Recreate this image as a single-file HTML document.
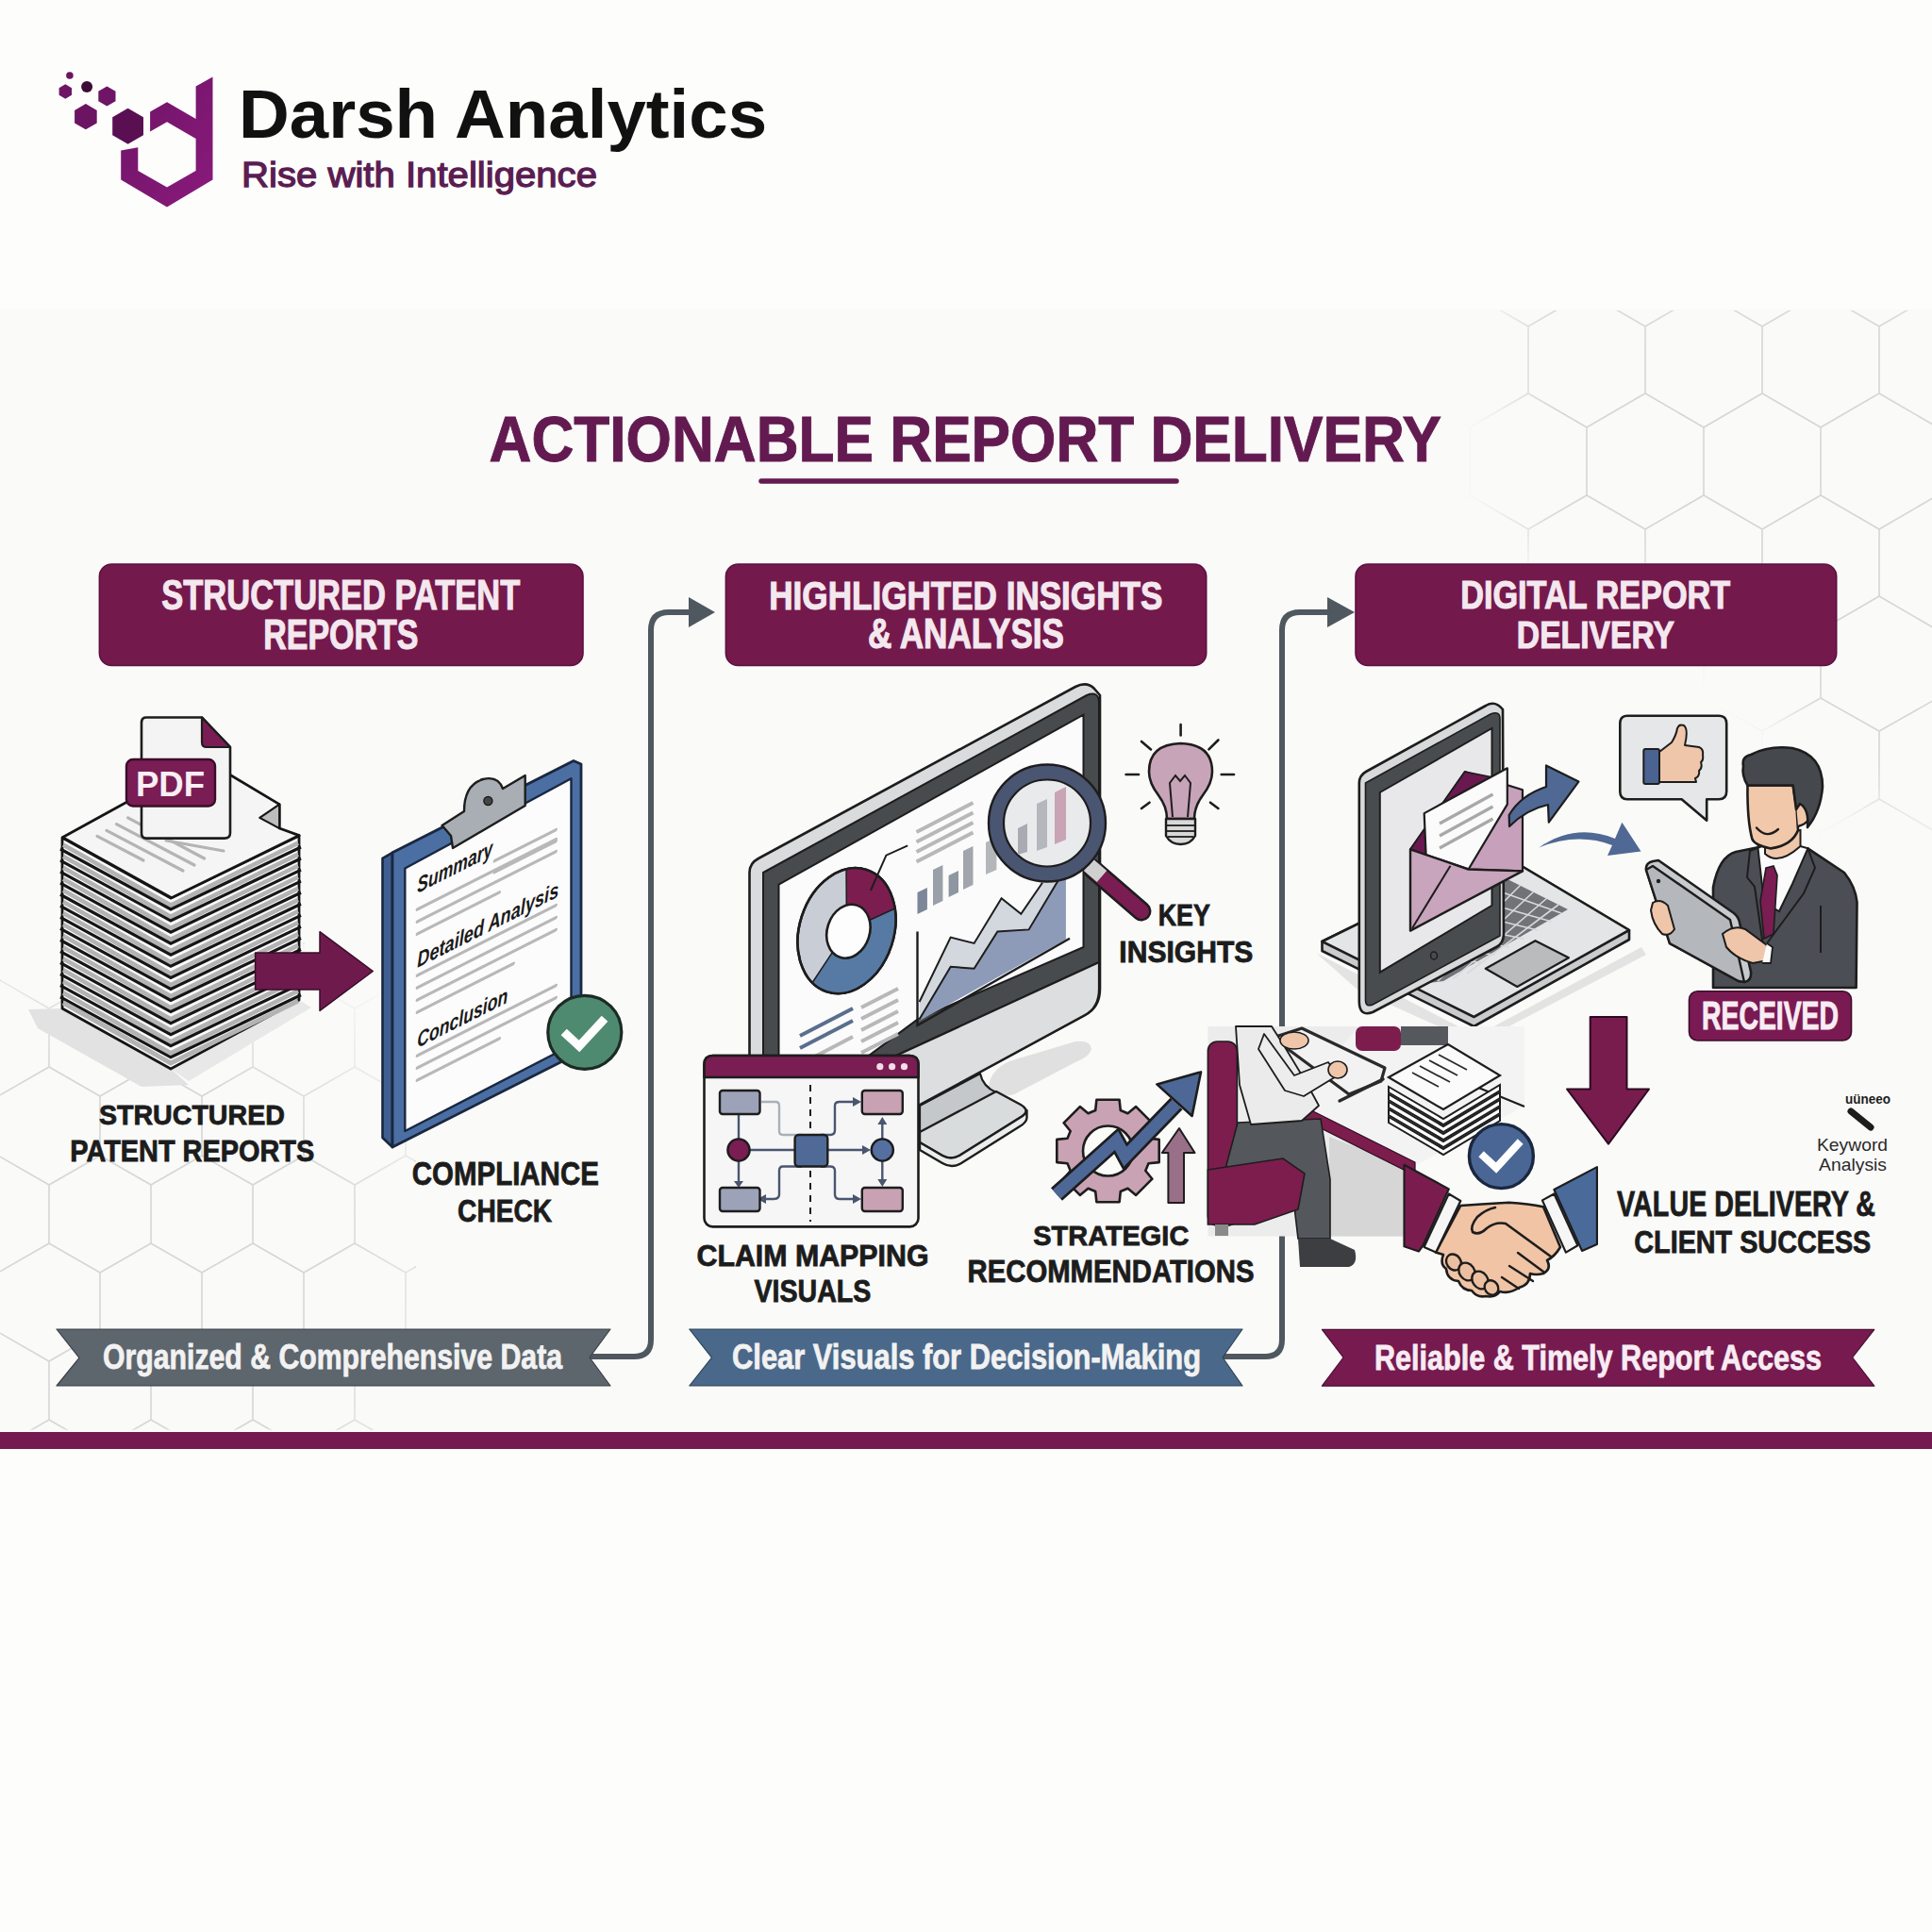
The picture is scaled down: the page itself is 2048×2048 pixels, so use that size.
<!DOCTYPE html>
<html><head><meta charset="utf-8"><title>Darsh Analytics - Actionable Report Delivery</title>
<style>
html,body{margin:0;padding:0;width:2048px;height:2048px;overflow:hidden;background:#fdfdfc;}
svg{display:block;position:absolute;left:0;top:0;}
text{font-family:"Liberation Sans",sans-serif;}
</style></head><body>
<svg width="2048" height="2048" viewBox="0 0 2048 2048">
<defs>
<linearGradient id="lg" x1="0" y1="0" x2="1" y2="1"><stop offset="0" stop-color="#6e1466"/><stop offset="1" stop-color="#8a1a7c"/></linearGradient>
</defs>
<rect x="0" y="328" width="2048" height="1190" fill="#fafaf9"/>
<!-- BACKGROUND HEX PATTERN -->
<g id="hexbg" fill="none" stroke="#d6d6d6" stroke-width="1.6">
<defs>
<filter id="blur30" x="-20%" y="-20%" width="140%" height="140%"><feGaussianBlur stdDeviation="28"/></filter>
<mask id="mTR" maskUnits="userSpaceOnUse" x="1500" y="329" width="548" height="800"><polygon points="1600,300 2100,300 2100,880 1960,850 1880,740 1790,640 1700,590 1600,580" fill="#fff" filter="url(#blur30)"/></mask>
<radialGradient id="fadeBL" cx="120" cy="1360" r="430" gradientUnits="userSpaceOnUse"><stop offset="0" stop-color="#fff"/><stop offset="0.55" stop-color="#fff"/><stop offset="1" stop-color="#000"/></radialGradient>
<mask id="mBL"><rect x="0" y="1000" width="440" height="515" fill="url(#fadeBL)"/></mask>
</defs>
<path d="M1558,310 L1620,346 L1620,417 L1558,453 L1496,417 L1496,346ZM1682,310 L1744,346 L1744,417 L1682,453 L1620,417 L1620,346ZM1806,310 L1868,346 L1868,417 L1806,453 L1744,417 L1744,346ZM1930,310 L1992,346 L1992,417 L1930,453 L1868,417 L1868,346ZM2054,310 L2116,346 L2116,417 L2054,453 L1992,417 L1992,346ZM2178,310 L2240,346 L2240,417 L2178,453 L2116,417 L2116,346ZM1620,417 L1682,453 L1682,525 L1620,561 L1558,525 L1558,453ZM1744,417 L1806,453 L1806,525 L1744,561 L1682,525 L1682,453ZM1868,417 L1930,453 L1930,525 L1868,561 L1806,525 L1806,453ZM1992,417 L2054,453 L2054,525 L1992,561 L1930,525 L1930,453ZM2116,417 L2178,453 L2178,525 L2116,561 L2054,525 L2054,453ZM2240,417 L2302,453 L2302,525 L2240,561 L2178,525 L2178,453ZM1558,525 L1620,561 L1620,632 L1558,668 L1496,632 L1496,561ZM1682,525 L1744,561 L1744,632 L1682,668 L1620,632 L1620,561ZM1806,525 L1868,561 L1868,632 L1806,668 L1744,632 L1744,561ZM1930,525 L1992,561 L1992,632 L1930,668 L1868,632 L1868,561ZM2054,525 L2116,561 L2116,632 L2054,668 L1992,632 L1992,561ZM2178,525 L2240,561 L2240,632 L2178,668 L2116,632 L2116,561ZM1620,632 L1682,668 L1682,740 L1620,775 L1558,740 L1558,668ZM1744,632 L1806,668 L1806,740 L1744,775 L1682,740 L1682,668ZM1868,632 L1930,668 L1930,740 L1868,775 L1806,740 L1806,668ZM1992,632 L2054,668 L2054,740 L1992,775 L1930,740 L1930,668ZM2116,632 L2178,668 L2178,740 L2116,775 L2054,740 L2054,668ZM2240,632 L2302,668 L2302,740 L2240,775 L2178,740 L2178,668ZM1558,740 L1620,775 L1620,847 L1558,883 L1496,847 L1496,775ZM1682,740 L1744,775 L1744,847 L1682,883 L1620,847 L1620,775ZM1806,740 L1868,775 L1868,847 L1806,883 L1744,847 L1744,775ZM1930,740 L1992,775 L1992,847 L1930,883 L1868,847 L1868,775ZM2054,740 L2116,775 L2116,847 L2054,883 L1992,847 L1992,775ZM2178,740 L2240,775 L2240,847 L2178,883 L2116,847 L2116,775ZM1620,847 L1682,883 L1682,954 L1620,990 L1558,954 L1558,883ZM1744,847 L1806,883 L1806,954 L1744,990 L1682,954 L1682,883ZM1868,847 L1930,883 L1930,954 L1868,990 L1806,954 L1806,883ZM1992,847 L2054,883 L2054,954 L1992,990 L1930,954 L1930,883ZM2116,847 L2178,883 L2178,954 L2116,990 L2054,954 L2054,883ZM2240,847 L2302,883 L2302,954 L2240,990 L2178,954 L2178,883ZM1558,954 L1620,990 L1620,1062 L1558,1098 L1496,1062 L1496,990ZM1682,954 L1744,990 L1744,1062 L1682,1098 L1620,1062 L1620,990ZM1806,954 L1868,990 L1868,1062 L1806,1098 L1744,1062 L1744,990ZM1930,954 L1992,990 L1992,1062 L1930,1098 L1868,1062 L1868,990ZM2054,954 L2116,990 L2116,1062 L2054,1098 L1992,1062 L1992,990ZM2178,954 L2240,990 L2240,1062 L2178,1098 L2116,1062 L2116,990ZM1620,1062 L1682,1098 L1682,1169 L1620,1205 L1558,1169 L1558,1098ZM1744,1062 L1806,1098 L1806,1169 L1744,1205 L1682,1169 L1682,1098ZM1868,1062 L1930,1098 L1930,1169 L1868,1205 L1806,1169 L1806,1098ZM1992,1062 L2054,1098 L2054,1169 L1992,1205 L1930,1169 L1930,1098ZM2116,1062 L2178,1098 L2178,1169 L2116,1205 L2054,1169 L2054,1098ZM2240,1062 L2302,1098 L2302,1169 L2240,1205 L2178,1169 L2178,1098Z" mask="url(#mTR)"/>
<path d="M-56,944 L-2,975 L-2,1038 L-56,1069 L-110,1038 L-110,975ZM52,944 L106,975 L106,1038 L52,1069 L-2,1038 L-2,975ZM160,944 L214,975 L214,1038 L160,1069 L106,1038 L106,975ZM268,944 L322,975 L322,1038 L268,1069 L214,1038 L214,975ZM376,944 L430,975 L430,1038 L376,1069 L322,1038 L322,975ZM484,944 L538,975 L538,1038 L484,1069 L430,1038 L430,975ZM592,944 L646,975 L646,1038 L592,1069 L538,1038 L538,975ZM-2,1038 L52,1069 L52,1131 L-2,1162 L-56,1131 L-56,1069ZM106,1038 L160,1069 L160,1131 L106,1162 L52,1131 L52,1069ZM214,1038 L268,1069 L268,1131 L214,1162 L160,1131 L160,1069ZM322,1038 L376,1069 L376,1131 L322,1162 L268,1131 L268,1069ZM430,1038 L484,1069 L484,1131 L430,1162 L376,1131 L376,1069ZM538,1038 L592,1069 L592,1131 L538,1162 L484,1131 L484,1069ZM646,1038 L700,1069 L700,1131 L646,1162 L592,1131 L592,1069ZM-56,1131 L-2,1162 L-2,1225 L-56,1256 L-110,1225 L-110,1162ZM52,1131 L106,1162 L106,1225 L52,1256 L-2,1225 L-2,1162ZM160,1131 L214,1162 L214,1225 L160,1256 L106,1225 L106,1162ZM268,1131 L322,1162 L322,1225 L268,1256 L214,1225 L214,1162ZM376,1131 L430,1162 L430,1225 L376,1256 L322,1225 L322,1162ZM484,1131 L538,1162 L538,1225 L484,1256 L430,1225 L430,1162ZM592,1131 L646,1162 L646,1225 L592,1256 L538,1225 L538,1162ZM-2,1225 L52,1256 L52,1318 L-2,1349 L-56,1318 L-56,1256ZM106,1225 L160,1256 L160,1318 L106,1349 L52,1318 L52,1256ZM214,1225 L268,1256 L268,1318 L214,1349 L160,1318 L160,1256ZM322,1225 L376,1256 L376,1318 L322,1349 L268,1318 L268,1256ZM430,1225 L484,1256 L484,1318 L430,1349 L376,1318 L376,1256ZM538,1225 L592,1256 L592,1318 L538,1349 L484,1318 L484,1256ZM646,1225 L700,1256 L700,1318 L646,1349 L592,1318 L592,1256ZM-56,1318 L-2,1349 L-2,1412 L-56,1443 L-110,1412 L-110,1349ZM52,1318 L106,1349 L106,1412 L52,1443 L-2,1412 L-2,1349ZM160,1318 L214,1349 L214,1412 L160,1443 L106,1412 L106,1349ZM268,1318 L322,1349 L322,1412 L268,1443 L214,1412 L214,1349ZM376,1318 L430,1349 L430,1412 L376,1443 L322,1412 L322,1349ZM484,1318 L538,1349 L538,1412 L484,1443 L430,1412 L430,1349ZM592,1318 L646,1349 L646,1412 L592,1443 L538,1412 L538,1349ZM-2,1412 L52,1443 L52,1505 L-2,1536 L-56,1505 L-56,1443ZM106,1412 L160,1443 L160,1505 L106,1536 L52,1505 L52,1443ZM214,1412 L268,1443 L268,1505 L214,1536 L160,1505 L160,1443ZM322,1412 L376,1443 L376,1505 L322,1536 L268,1505 L268,1443ZM430,1412 L484,1443 L484,1505 L430,1536 L376,1505 L376,1443ZM538,1412 L592,1443 L592,1505 L538,1536 L484,1505 L484,1443ZM646,1412 L700,1443 L700,1505 L646,1536 L592,1505 L592,1443Z" mask="url(#mBL)"/>
</g>

<!-- LOGO -->
<g id="logo">
<circle cx="73.9" cy="80" r="3.8" fill="#6a1560"/>
<polygon points="69.3,89.3 76,93.2 76,100.8 69.3,104.7 62.6,100.8 62.6,93.2" fill="#6e1566"/>
<circle cx="92.1" cy="92" r="6" fill="#3e0a36"/>
<polygon points="113.4,91.5 122.5,96.7 122.5,107.3 113.4,112.5 104.3,107.3 104.3,96.7" fill="#6e1566"/>
<polygon points="90.9,110.1 102.7,116.9 102.7,130.5 90.9,137.3 79.1,130.5 79.1,116.9" fill="#6b1462"/>
<polygon points="135.6,114.8 152,124.3 152,143.3 135.6,152.8 119.2,143.3 119.2,124.3" fill="#5a0f52"/>
<path d="M225.5,81.5 L225.5,190.5 L177,219.5 L128.2,190.5 L128.2,159.6 L146.3,156.2 L146.3,180.9 L177,198.6 L207.6,180.9 L207.6,147 L177,129.3 L159.1,139.6 L159.1,118.5 L177,108.2 L207.6,125.9 L207.6,91.6 Z" fill="url(#lg)"/>
</g>
<text id="t0" x="253.00" y="146" font-size="72" font-weight="bold" fill="#111" textLength="560.12" lengthAdjust="spacingAndGlyphs">Darsh Analytics</text>
<text id="t1" x="256.00" y="197.7" font-size="37.7" fill="#5a1d52" textLength="377.02" lengthAdjust="spacingAndGlyphs" stroke="#5a1d52" stroke-width="1.3">Rise with Intelligence</text>

<!-- TITLE -->
<text id="t2" x="1023.30" y="489.00" font-size="68.37" font-weight="bold" fill="#621a50" stroke="#621a50" stroke-width="1" text-anchor="middle" textLength="1009.40" lengthAdjust="spacingAndGlyphs">ACTIONABLE REPORT DELIVERY</text>
<line x1="807" y1="510" x2="1247" y2="510" stroke="#621a50" stroke-width="5.5" stroke-linecap="round"/>

<!-- HEADERS -->
<g id="headers">
<rect x="105.4" y="598" width="512.6" height="107.5" rx="13" fill="#74194c" stroke="#5c1140" stroke-width="1.6"/>
<rect x="769.4" y="598" width="509.3" height="107.5" rx="13" fill="#74194c" stroke="#5c1140" stroke-width="1.6"/>
<rect x="1437" y="598" width="509.7" height="107.5" rx="13" fill="#74194c" stroke="#5c1140" stroke-width="1.6"/>
<g font-size="45" font-weight="bold" fill="#f4e8ef" stroke="#f4e8ef" stroke-width="1.1" text-anchor="middle">
<text font-size="44.13" id="t3" x="361.30" y="646.00" textLength="380.00" lengthAdjust="spacingAndGlyphs">STRUCTURED PATENT</text>
<text font-size="43.60" id="t4" x="361.30" y="688.00" textLength="164.04" lengthAdjust="spacingAndGlyphs">REPORTS</text>
<text font-size="42.73" id="t5" x="1023.80" y="646.00" textLength="417.04" lengthAdjust="spacingAndGlyphs">HIGHLIGHTED INSIGHTS</text>
<text font-size="45" id="t6" x="1024.00" y="687.00" textLength="208.02" lengthAdjust="spacingAndGlyphs">&amp; ANALYSIS</text>
<text font-size="42.97" id="t7" x="1691.20" y="645.00" textLength="286.02" lengthAdjust="spacingAndGlyphs">DIGITAL REPORT</text>
<text font-size="41.45" id="t8" x="1691.40" y="687.00" textLength="167.07" lengthAdjust="spacingAndGlyphs">DELIVERY</text>
</g>
</g>

<!-- CONNECTORS -->
<g fill="none" stroke="#4f575f" stroke-width="6" stroke-linejoin="round">
<path d="M625,1438 L672,1438 Q690,1438 690,1420 L690,668 Q690,649 709,649 L734,649"/>
<path d="M1296,1438 L1341,1438 Q1359,1438 1359,1420 L1359,668 Q1359,649 1378,649 L1410,649"/>
</g>
<g fill="#4f575f">
<polygon points="730,633 758,649 730,665"/>
<polygon points="1407,633 1436,649 1407,665"/>
</g>

<!-- RIBBONS -->
<g id="ribbons">
<polygon points="60,1409 647,1409 625,1439 647,1469 60,1469 84,1439.3" fill="#5d656d" stroke="#3a4046" stroke-width="1.2" stroke-linejoin="round"/>
<polygon points="730.8,1409 1317,1409 1296,1439 1317,1469 730.8,1469 754.5,1439.2" fill="#4a6889" stroke="#2e4258" stroke-width="1.2" stroke-linejoin="round"/>
<polygon points="1401.4,1409.4 1986.8,1409.4 1963.7,1439 1986.8,1469.2 1401.4,1469.2 1424,1439" fill="#761a50" stroke="#4a0e30" stroke-width="1.2" stroke-linejoin="round"/>
<g font-size="37.7" font-weight="bold" fill="#f2f2f2" stroke="#f2f2f2" stroke-width="0.8">
<text font-size="37.7" id="t9" x="109.00" y="1451.4" textLength="487.00" lengthAdjust="spacingAndGlyphs">Organized &amp; Comprehensive Data</text>
<text font-size="37.7" id="t10" x="776.00" y="1451.4" textLength="497.03" lengthAdjust="spacingAndGlyphs">Clear Visuals for Decision-Making</text>
<text font-size="37.7" id="t11" x="1457.00" y="1451.6" textLength="474.02" lengthAdjust="spacingAndGlyphs" fill="#f8ecf3" stroke="#f8ecf3">Reliable &amp; Timely Report Access</text>
</g>
</g>

<!-- BOTTOM BAR -->
<rect x="0" y="1518" width="2048" height="18" fill="#741a50"/>

<!-- LABELS -->
<g font-size="35" font-weight="bold" fill="#1c1c1c" stroke="#1c1c1c" stroke-width="0.8" text-anchor="middle">
<text font-size="29.57" id="t12" x="203.40" y="1192.00" textLength="197.01" lengthAdjust="spacingAndGlyphs">STRUCTURED</text>
<text font-size="32.07" id="t13" x="203.80" y="1231.00" textLength="259.02" lengthAdjust="spacingAndGlyphs">PATENT REPORTS</text>
<text id="t14" x="535.80" y="1256.00" textLength="198.02" lengthAdjust="spacingAndGlyphs" font-size="34.89">COMPLIANCE</text>
<text id="t15" x="535.10" y="1295.00" textLength="100.00" lengthAdjust="spacingAndGlyphs" font-size="33.96">CHECK</text>
<text font-size="31.84" id="t16" x="1255.30" y="981.00" textLength="55.07" lengthAdjust="spacingAndGlyphs">KEY</text>
<text font-size="31.40" id="t17" x="1257.40" y="1020.00" textLength="142.06" lengthAdjust="spacingAndGlyphs">INSIGHTS</text>
<text font-size="31.80" id="t18" x="861.50" y="1342.00" textLength="246.01" lengthAdjust="spacingAndGlyphs">CLAIM MAPPING</text>
<text font-size="32.85" id="t19" x="861.40" y="1380.00" textLength="124.02" lengthAdjust="spacingAndGlyphs">VISUALS</text>
<text font-size="29.57" id="t20" x="1177.80" y="1320.00" textLength="165.03" lengthAdjust="spacingAndGlyphs">STRATEGIC</text>
<text font-size="32.85" id="t21" x="1177.50" y="1359.00" textLength="304.01" lengthAdjust="spacingAndGlyphs">RECOMMENDATIONS</text>
<text id="t22" x="1851.10" y="1289.00" textLength="274.00" lengthAdjust="spacingAndGlyphs" font-size="37.7">VALUE DELIVERY &amp;</text>
<text id="t23" x="1857.80" y="1328.00" textLength="251.01" lengthAdjust="spacingAndGlyphs" font-size="34.11">CLIENT SUCCESS</text>
</g>
<g font-size="19" fill="#2a2a2a">
<text font-size="19" id="t24" x="1926.00" y="1219.5" textLength="75.07" lengthAdjust="spacingAndGlyphs">Keyword</text>
<text font-size="19" id="t25" x="1928.00" y="1241.4" textLength="72.02" lengthAdjust="spacingAndGlyphs">Analysis</text>
</g>

<!-- ILLUSTRATIONS -->
<g id="panel3">
<!-- laptop shadow -->
<polygon points="1395,1010 1565,1098 1740,1004 1745,1012 1565,1106 1440,1050" fill="#e3e3e3"/>
<!-- laptop base -->
<path d="M1401.5,998 L1591,905 L1727,986 L1727,996 L1562.4,1088 L1401.5,1008 Z" fill="#c9cbcd" stroke="#1d1d1d" stroke-width="2.6" stroke-linejoin="round"/>
<path d="M1401.5,998 L1591,905 L1727,986 L1562.4,1078 Z" fill="#e4e5e6" stroke="#1d1d1d" stroke-width="2.6" stroke-linejoin="round"/>
<!-- keyboard -->
<polygon points="1598,932 1662,964 1530,1040 1500,1044 1470,1030" fill="#707478"/>
<g stroke="#d8d9da" stroke-width="1.6">
<line x1="1590" y1="945" x2="1655" y2="968"/><line x1="1575" y1="957" x2="1645" y2="977"/><line x1="1560" y1="969" x2="1630" y2="986"/>
<line x1="1545" y1="981" x2="1615" y2="995"/><line x1="1530" y1="993" x2="1600" y2="1004"/><line x1="1515" y1="1005" x2="1585" y2="1012"/>
<line x1="1500" y1="1017" x2="1570" y2="1020"/>
<line x1="1612" y1="938" x2="1510" y2="1040"/><line x1="1626" y1="945" x2="1524" y2="1040"/><line x1="1640" y1="952" x2="1540" y2="1038"/><line x1="1652" y1="959" x2="1555" y2="1032"/>
</g>
<polygon points="1574.8,1026.8 1627.5,997.2 1662.9,1015.3 1608.3,1046" fill="#b9bbbd" stroke="#1d1d1d" stroke-width="2.2" stroke-linejoin="round"/>
<!-- laptop screen -->
<path d="M1440.8,830 Q1440.8,822 1448,818 L1575,748 Q1585,742 1593,752 L1594,990 Q1594,1000 1586,1004 L1455,1073 Q1441,1078 1440.8,1062 Z" fill="#d7d9db" stroke="#1d1d1d" stroke-width="2.6" stroke-linejoin="round"/>
<path d="M1447.5,830 L1580,757 Q1590,753 1590,762 L1590,992 L1455,1065 Q1447.5,1068 1447.5,1060 Z" fill="#484c4f" stroke="#1d1d1d" stroke-width="1.6" stroke-linejoin="round"/>
<polygon points="1462.8,840 1581.5,772 1581.5,959.8 1462.8,1030.7" fill="#e8e8ea" stroke="#1d1d1d" stroke-width="2"/>
<ellipse cx="1520" cy="1013" rx="3.5" ry="4" fill="none" stroke="#1d1d1d" stroke-width="1.5"/>
<!-- envelope -->
<polygon points="1495,900.4 1552.8,818.1 1614,837.2 1614,923.4 1556.6,921.5" fill="#c7a0bb" stroke="#1d1d1d" stroke-width="2.2" stroke-linejoin="round"/>
<polygon points="1495,900.4 1552.8,818.1 1581.5,823.8 1556.6,921.5" fill="#6a1850" stroke="#1d1d1d" stroke-width="1.6" stroke-linejoin="round"/>
<polygon points="1509.7,862.1 1597.8,814.3 1597.8,852.6 1556.6,921.5 1511.6,906.2" fill="#fbfbfb" stroke="#1d1d1d" stroke-width="2.2" stroke-linejoin="round"/>
<g stroke="#a8a8a8" stroke-width="3.2"><line x1="1526" y1="873" x2="1582.5" y2="842"/><line x1="1526" y1="886" x2="1582.5" y2="855"/><line x1="1526" y1="899" x2="1582.5" y2="868"/></g>
<polygon points="1495,900.4 1556.6,921.5 1614,923.4 1495,986.6" fill="#c9a4bd" stroke="#1d1d1d" stroke-width="2.4" stroke-linejoin="round"/>
<polyline points="1497,984 1537.5,917.7" fill="none" stroke="#1d1d1d" stroke-width="2"/>
<!-- blue arrows -->
<path d="M1599.7,864 Q1612,843 1639,834 L1639,811.4 L1673.4,828.6 L1641.8,871.7 L1641,853 Q1618,858 1600,876 Z" fill="#4f6894" stroke="#1d1d1d" stroke-width="2.2" stroke-linejoin="round"/>
<path d="M1631.3,898.5 Q1670,872 1712,889 L1719.4,871.7 L1739.5,902.4 L1704,907 L1709,896 Q1672,882 1631.3,898.5 Z" fill="#4f6894"/>
<!-- thumbs up bubble -->
<path d="M1725,758.7 L1822,758.7 Q1830.2,758.7 1830.2,767 L1830.2,839 Q1830.2,847.2 1822,847.2 L1809.2,847.2 L1809.2,869.8 L1782.6,847.2 L1725,847.2 Q1717.3,847.2 1717.3,839 L1717.3,767 Q1717.3,758.7 1725,758.7 Z" fill="#e6e7e9" stroke="#1d1d1d" stroke-width="2.6" stroke-linejoin="round"/>
<rect x="1742.3" y="794" width="16.7" height="36.9" rx="2" fill="#4a6390" stroke="#1d1d1d" stroke-width="2"/>
<path d="M1759,797 L1772,787 Q1777,779 1778,772 Q1780,767 1785,769 Q1790,773 1786,790 L1801,792 Q1806,794 1805,800 Q1806,806 1803,808 Q1805,814 1801,817 Q1802,823 1797,825 L1798,829 L1759,829 Z" fill="#f0c6ab" stroke="#1d1d1d" stroke-width="2" stroke-linejoin="round"/>
<!-- person -->
<path d="M1816,1047 L1816,940.7 Q1822,908 1840,903 L1867.2,897.4 L1916.4,899.4 L1955,925 Q1967,940 1968.5,956.4 L1967.6,1047 Z" fill="#4b4e54" stroke="#1d1d1d" stroke-width="2.6" stroke-linejoin="round"/>
<polygon points="1863.3,897.4 1871,893 1908.5,897 1916.4,899.4 1900,937 1886,966 1870,957" fill="#fbfbfb" stroke="#1d1d1d" stroke-width="2"/>
<polygon points="1872,920 1880,918 1884,928 1880,990 1870,995 1866,955" fill="#7a1d52" stroke="#1d1d1d" stroke-width="1.6"/>
<path d="M1867.2,897.4 L1855,902 L1852,930 L1860,940 L1870,1010" fill="none" stroke="#1d1d1d" stroke-width="2"/>
<path d="M1916.4,899.4 L1924,920 L1912,947 L1873,1000" fill="none" stroke="#1d1d1d" stroke-width="2"/>
<line x1="1930" y1="960" x2="1930" y2="1010" stroke="#1d1d1d" stroke-width="2"/>
<path d="M1871,885 L1871,905 Q1885,918 1908.5,897 L1908.5,880 Z" fill="#f0c6ab" stroke="#1d1d1d" stroke-width="2"/>
<path d="M1852.5,832.5 L1900.7,832.5 L1904.6,858 L1906,880 Q1900,896 1877,899.4 Q1860,896 1857.4,889.5 Q1852,870 1852.5,832.5 Z" fill="#f2c8aa" stroke="#1d1d1d" stroke-width="2.6" stroke-linejoin="round"/>
<path d="M1904,852 Q1915,846 1919,858 Q1921,872 1906,876" fill="#f2c8aa" stroke="#1d1d1d" stroke-width="2.4"/>
<path d="M1848,812 Q1846,802 1856,800 Q1875,790 1900,793 Q1932,800 1932,834 Q1930,860 1916,877 Q1918,858 1908,852 L1904,858 L1900.7,832.5 L1852.5,832.5 Q1846,822 1848,812 Z" fill="#45484c" stroke="#1d1d1d" stroke-width="2.6" stroke-linejoin="round"/>
<path d="M1862,877.5 Q1873,890 1885,879" fill="none" stroke="#1d1d1d" stroke-width="2.4" stroke-linecap="round"/>
<!-- tablet -->
<path d="M1745,922 Q1744,915 1752,913 L1758,912 L1838,968 Q1843,972 1844,978 L1856,1030 Q1857,1040 1849,1041 L1843,1040 L1770,1000 Z" fill="#c8cbce" stroke="#1d1d1d" stroke-width="2.6" stroke-linejoin="round"/>
<path d="M1745,922 L1752,918 L1834,975 L1849,1041 L1843,1040 L1770,1000 Z" fill="#b4b8bc" stroke="#1d1d1d" stroke-width="2.4" stroke-linejoin="round"/>
<circle cx="1758" cy="934" r="2.2" fill="#1d1d1d"/>
<path d="M1752,957 Q1760,952 1768,960 L1775,985 Q1770,993 1762,990 Q1752,980 1750,965 Z" fill="#f0c6ab" stroke="#1d1d1d" stroke-width="2"/>
<path d="M1826,990 Q1838,980 1850,985 L1873,1002 Q1880,1012 1874,1018 L1858,1021 Q1840,1016 1830,1004 Z" fill="#f0c6ab" stroke="#1d1d1d" stroke-width="2"/>
<path d="M1873,1000 L1879,1004 L1877,1021 L1868,1021" fill="#fbfbfb" stroke="#1d1d1d" stroke-width="1.8"/>
<!-- RECEIVED badge -->
<rect x="1790.5" y="1050.8" width="172" height="52.2" rx="9" fill="#7a1a52" stroke="#3e0c2a" stroke-width="1.6"/>
<text id="t26" x="1876.50" y="1091.00" font-size="41.65" font-weight="bold" fill="#f8ecf3" stroke="#f8ecf3" stroke-width="1" text-anchor="middle" textLength="145.03" lengthAdjust="spacingAndGlyphs">RECEIVED</text>

<!-- desk overlay picture -->
<g>
<rect x="1280.4" y="1088" width="207" height="222.5" fill="#ececec"/>
<polygon points="1372,1170 1440,1088 1616,1088 1616,1172 1500,1236" fill="#f3f3f3"/>
<line x1="1560" y1="1150" x2="1616" y2="1173" stroke="#1d1d1d" stroke-width="2.2"/>
<polygon points="1409,1205 1487.3,1235 1487.3,1310.5 1409,1310.5" fill="#d6d6d6"/>
<polygon points="1372,1168 1500,1232 1500,1246 1372,1182" fill="#7c1d4e" stroke="#2a0a1e" stroke-width="1.2"/>
<rect x="1437" y="1088" width="48" height="26" rx="7" fill="#7c1d4e"/>
<rect x="1485" y="1088" width="50" height="20" fill="#55585c"/>
<polygon points="1349,1100 1380,1090 1468,1132 1464,1146 1430,1160" fill="#f2f2f2" stroke="#2a2a2a" stroke-width="3.2" stroke-linejoin="round"/>
<line x1="1420" y1="1167" x2="1466" y2="1144" stroke="#2a2a2a" stroke-width="3.4" stroke-linecap="round"/>
<rect x="1280.4" y="1104" width="31" height="195" rx="10" fill="#7c1d4e" stroke="#1d1d1d" stroke-width="1.6"/>
<path d="M1312,1190 L1400,1186 L1410,1250 L1410,1313 L1376,1313 L1370,1262 L1308,1270 L1300,1235 Z" fill="#54575b" stroke="#1d1d1d" stroke-width="1.6"/>
<path d="M1280.4,1240 L1360,1228 L1383,1244 L1376,1282 L1330,1298 L1280.4,1298 Z" fill="#7c1d4e" stroke="#1d1d1d" stroke-width="1.6"/>
<path d="M1310,1088 L1348,1088 L1362,1110 L1385,1148 L1398,1172 L1380,1188 L1326,1192 L1314,1150 Z" fill="#ebebeb" stroke="#1d1d1d" stroke-width="1.8" stroke-linejoin="round"/>
<path d="M1340,1096 L1372,1140 L1408,1126 L1418,1140 L1382,1162 L1362,1156 L1334,1112 Z" fill="#ededed" stroke="#1d1d1d" stroke-width="1.8" stroke-linejoin="round"/>
<ellipse cx="1372" cy="1103" rx="15" ry="9" fill="#f0c6ab" stroke="#1d1d1d" stroke-width="1.6"/>
<ellipse cx="1418" cy="1134" rx="10" ry="9" fill="#f0c6ab" stroke="#1d1d1d" stroke-width="1.6"/>
<rect x="1288" y="1298" width="14" height="12" fill="#8a8a8a"/>
<path d="M1376,1313 L1410,1313 L1436,1325 Q1440,1340 1430,1343 L1378,1343 Z" fill="#3c3e42"/>
<g>
<defs><polygon id="pch" points="1472,1152 1530,1186 1590,1150 1590,1156 1530,1192 1472,1158" fill="#fdfdfd" stroke="#1d1d1d" stroke-width="2"/></defs>
<use href="#pch" y="32"/><use href="#pch" y="24"/><use href="#pch" y="16"/><use href="#pch" y="8"/><use href="#pch" y="0"/>
<polygon points="1472,1142 1535,1107 1590,1140 1530,1176" fill="#fbfbfb" stroke="#1d1d1d" stroke-width="2.2"/>
<g stroke="#2a2a2a" stroke-width="1.8"><line x1="1497" y1="1137" x2="1525" y2="1152"/><line x1="1505" y1="1130" x2="1537" y2="1147"/><line x1="1515" y1="1124" x2="1545" y2="1140"/><line x1="1525" y1="1118" x2="1555" y2="1134"/></g>
</g>
</g>
<!-- check circle -->
<circle cx="1591.4" cy="1225.6" r="34" fill="#4a6694" stroke="#1a2740" stroke-width="3.4"/>
<path d="M1573,1226 L1586,1238 L1609,1213" fill="none" stroke="#ffffff" stroke-width="8" stroke-linecap="square"/>
<!-- handshake -->
<polygon points="1488.5,1234.8 1535.8,1260.4 1508.5,1320.2 1503.9,1326.5 1488.5,1321.3" fill="#7a1d4e" stroke="#1d1d1d" stroke-width="2.2" stroke-linejoin="round"/>
<polygon points="1647.4,1261 1692.9,1237.1 1692.9,1319.1 1677,1325.9" fill="#4a6a9a" stroke="#1d1d1d" stroke-width="2.2" stroke-linejoin="round"/>
<path d="M1548.3,1278 Q1575,1276 1599.6,1274.7 Q1620,1276 1636,1279.2 L1654,1322 Q1648,1332 1640,1336 Q1645,1345 1636,1350 Q1628,1352 1622,1350 Q1622,1362 1610,1365 Q1600,1372 1590,1369 Q1585,1376 1575,1374 Q1566,1376 1560,1368 Q1550,1368 1546,1358 Q1534,1357 1533,1345 Q1526,1340 1530,1330 L1522,1327.6 Z" fill="#f0c4a4" stroke="#1d1d1d" stroke-width="2.6" stroke-linejoin="round"/>
<g fill="#ecbfa0" stroke="#1d1d1d" stroke-width="2.4">
<ellipse cx="1541" cy="1338" rx="7.5" ry="9" transform="rotate(-35 1541 1338)"/>
<ellipse cx="1555" cy="1348" rx="8" ry="10" transform="rotate(-35 1555 1348)"/>
<ellipse cx="1569" cy="1357" rx="8" ry="10" transform="rotate(-35 1569 1357)"/>
<ellipse cx="1581" cy="1365" rx="7" ry="8" transform="rotate(-35 1581 1365)"/>
</g>
<path d="M1561,1306 Q1558,1300 1566,1290 Q1575,1282 1585,1280 M1561,1306 Q1568,1310 1576,1302 Q1585,1295 1596,1297 L1644,1332" fill="none" stroke="#1d1d1d" stroke-width="2.6" stroke-linecap="round" stroke-linejoin="round"/>
<path d="M1609,1328 L1636,1348 M1600,1342 L1625,1358 M1592,1354 L1610,1366" fill="none" stroke="#1d1d1d" stroke-width="2.4" stroke-linecap="round"/>
<polygon points="1535.8,1265.5 1548.3,1273 1522.1,1327.6 1509.6,1321.9" fill="#f6f6f6" stroke="#1d1d1d" stroke-width="2.2" stroke-linejoin="round"/>
<polygon points="1634.9,1272.4 1647.4,1265.5 1672.4,1320.2 1659.9,1327.6" fill="#f6f6f6" stroke="#1d1d1d" stroke-width="2.2" stroke-linejoin="round"/>
<!-- down arrow -->
<polygon points="1685.7,1078 1724.5,1078 1724.5,1154.5 1748,1154.5 1705,1212.7 1661,1154.5 1685.7,1154.5" fill="#781c4e" stroke="#2e0a20" stroke-width="2" stroke-linejoin="round"/>
<!-- keyword icon -->
<text id="t27" x="1956" y="1170" font-size="15" font-weight="bold" fill="#1d1d1d" textLength="48" lengthAdjust="spacingAndGlyphs">uüneeo</text>
<line x1="1962" y1="1178" x2="1983" y2="1195" stroke="#1d1d1d" stroke-width="7" stroke-linecap="round"/>
</g>

<g id="panel2">
<!-- stand shadow -->
<path d="M1048,1152 Q1050,1134 1070,1125 L1140,1104 Q1156,1102 1157,1112 Q1155,1120 1140,1126 L1075,1160 Q1055,1166 1048,1152 Z" fill="#e0e0e0"/>
<!-- stand -->
<path d="M975,1172 L1039,1138 Q1042,1152 1056,1158 L975,1202 Z" fill="#c4c8ca" stroke="#1d1d1d" stroke-width="2.2" stroke-linejoin="round"/>
<path d="M975,1200 L1056,1157 L1082,1171 Q1092,1177 1084,1183 L1017,1225 Q1008,1230 999,1225 L975,1211 Z" fill="#d9dcdd" stroke="#1d1d1d" stroke-width="2.4" stroke-linejoin="round"/>
<path d="M975,1211 L999,1225 Q1008,1230 1017,1225 L1084,1183 Q1089,1179 1088.5,1177 L1088.5,1185 Q1088,1190 1081,1194 L1019,1233 Q1009,1239 999,1233 L975,1219 Z" fill="#eceeee" stroke="#1d1d1d" stroke-width="2.4" stroke-linejoin="round"/>
<!-- monitor outer rim -->
<path d="M794.5,925 Q794.5,915 804,910 L1140,728 Q1152,722 1160,730 L1166,737 L1166,1048 Q1166,1068 1150,1076 L975,1171 L794.5,1190 Z" fill="#d9dbdd" stroke="#1d1d1d" stroke-width="2.6" stroke-linejoin="round"/>
<!-- dark bezel -->
<path d="M809,925 L1152,737 Q1165,732 1165,745 L1165,1020 L950,1119 L809,1190 Z" fill="#474b4d" stroke="#1d1d1d" stroke-width="2" stroke-linejoin="round"/>
<!-- chin -->
<path d="M950,1119 L1165,1020 L1165,1048 Q1165,1068 1150,1076 L975,1171 L950,1171 Z" fill="#dcdedf" stroke="#1d1d1d" stroke-width="2.2" stroke-linejoin="round"/>
<!-- screen -->
<polygon points="825.5,937.7 1148.5,757.6 1148.5,1004 972.5,1080.6 825.5,1190" fill="#fbfbfb" stroke="#1d1d1d" stroke-width="2"/>
<!-- screen content: text lines -->
<g stroke="#b8b8b8" stroke-width="4" stroke-linecap="butt">
<line x1="971.5" y1="882" x2="1031.5" y2="851"/>
<line x1="971.5" y1="892.5" x2="1031.5" y2="861.5"/>
<line x1="971.5" y1="903" x2="1031.5" y2="872"/>
<line x1="971.5" y1="913.5" x2="1031.5" y2="882.5"/>
<line x1="913" y1="1068" x2="952" y2="1048"/>
<line x1="913" y1="1080" x2="952" y2="1060"/>
<line x1="913" y1="1092" x2="952" y2="1072"/>
<line x1="913" y1="1104" x2="952" y2="1084"/>
<line x1="913" y1="1116" x2="952" y2="1096"/>
</g>
<g stroke="#5a6e8e" stroke-width="4">
<line x1="848" y1="1098" x2="904" y2="1069"/>
<line x1="848" y1="1111" x2="904" y2="1082"/>
</g>
<g stroke="#b8b8b8" stroke-width="4"><line x1="860" y1="1122" x2="904" y2="1099"/></g>
<!-- bars -->
<g>
<polygon points="972.5,946 982.9,941 982.9,964 972.5,969" fill="#7c879a"/>
<polygon points="989,922 999.4,917 999.4,955 989,960" fill="#9aa0a8"/>
<polygon points="1005.6,928 1016,923 1016,946 1005.6,951" fill="#8e96a2"/>
<polygon points="1021,902 1031.5,897 1031.5,938 1021,943" fill="#a2a6ac"/>
<polygon points="1045,893 1056.4,888 1056.4,922 1045,927" fill="#b4b7ba"/>
</g>
<!-- donut -->
<g transform="translate(897.5,986.6) rotate(18) ">
<ellipse cx="0" cy="0" rx="50" ry="68" fill="#c9ced6" stroke="#1d1d1d" stroke-width="2.6"/>
<path d="M0,0 L-20.6,-61.9 A50,68 0 0 1 41.4,-38.2 Z" fill="#7c1d50" stroke="#1d1d1d" stroke-width="1.5"/>
<path d="M0,0 L41.4,-38.2 A50,68 0 0 1 -17.6,63.7 Z" fill="#577aa4" stroke="#1d1d1d" stroke-width="1.5"/>
<ellipse cx="0" cy="0" rx="50" ry="68" fill="none" stroke="#1d1d1d" stroke-width="2.6"/>
<ellipse cx="2" cy="0" rx="22.5" ry="29" fill="#fdfdfd" stroke="#1d1d1d" stroke-width="2.6"/>
</g>
<polyline points="922.9,944 939.4,906.7 962.2,896.3" fill="none" stroke="#1d1d1d" stroke-width="2"/>
<!-- area chart -->
<polygon points="974.6,1062 1007.7,993.6 1032.6,999.9 1061.6,952.2 1082.3,968.8 1105,935.7 1129.9,922 1129.9,995.7 974.6,1080" fill="#d3d7de"/>
<polygon points="974.6,1080.6 1007.7,1024.7 1032.6,1026.8 1057.4,987.4 1090.6,985.4 1121.6,933.6 1129.9,925 1129.9,995.7 974.6,1082" fill="#8d9bb9"/>
<polyline points="974.6,1062 1007.7,993.6 1032.6,999.9 1061.6,952.2 1082.3,968.8 1105,935.7" fill="none" stroke="#1d1d1d" stroke-width="2"/>
<polyline points="974.6,1080.6 1007.7,1024.7 1032.6,1026.8 1057.4,987.4 1090.6,985.4 1121.6,933.6" fill="none" stroke="#1d1d1d" stroke-width="2"/>
<polyline points="972.5,987.4 972.5,1087 1134,994.7" fill="none" stroke="#1d1d1d" stroke-width="2.4"/>
<!-- magnifier -->
<line x1="1158" y1="921" x2="1210" y2="966" stroke="#1d1d1d" stroke-width="21" stroke-linecap="round"/>
<line x1="1158" y1="921" x2="1210" y2="966" stroke="#7a1d52" stroke-width="16" stroke-linecap="round"/>
<line x1="1154" y1="917" x2="1168" y2="929" stroke="#d0d0d0" stroke-width="16"/>
<circle cx="1110" cy="872.5" r="54" fill="#e9eaec" stroke="#4a5571" stroke-width="16"/>
<circle cx="1110" cy="872.5" r="62" fill="none" stroke="#1d1d1d" stroke-width="2.4"/>
<circle cx="1110" cy="872.5" r="46" fill="none" stroke="#1d1d1d" stroke-width="2.2"/>
<g>
<polygon points="1079,878 1089,873 1089,903 1079,906" fill="#a8acb2"/>
<polygon points="1099,852 1110,847 1110,898 1099,902" fill="#b4b8bc"/>
<polygon points="1118,840 1130,834 1130,890 1118,895" fill="#c8a4b4"/>
</g>
<!-- light bulb -->
<g stroke="#1d1d1d" stroke-width="2.6" stroke-linecap="round">
<line x1="1251.6" y1="768" x2="1251.6" y2="779.5"/>
<line x1="1193.6" y1="821" x2="1207" y2="821"/>
<line x1="1294.7" y1="821" x2="1308" y2="821"/>
<line x1="1210" y1="786" x2="1220" y2="794.4"/>
<line x1="1291.4" y1="784.5" x2="1281.4" y2="794.4"/>
<line x1="1210" y1="857" x2="1218.5" y2="850.7"/>
<line x1="1283" y1="850.7" x2="1291.4" y2="857"/>
</g>
<path d="M1237,868 Q1237,855 1228,843 Q1218,830 1218,818 Q1218,789 1251.6,788 Q1285,789 1285,818 Q1285,830 1275,843 Q1266,855 1266,868 Z" fill="#c8a4b8" stroke="#1d1d1d" stroke-width="2.6" stroke-linejoin="round"/>
<path d="M1243,866 L1240,830 L1246,822 L1251,828 L1256,822 L1262,830 L1259,866" fill="none" stroke="#1d1d1d" stroke-width="2"/>
<path d="M1236,868 L1267,868 L1267,886 Q1262,895 1251.6,895 Q1241,895 1236,886 Z" fill="#d8d8d8" stroke="#1d1d1d" stroke-width="2.4" stroke-linejoin="round"/>
<g stroke="#1d1d1d" stroke-width="1.8"><line x1="1236" y1="875" x2="1267" y2="875"/><line x1="1236" y1="881" x2="1267" y2="881"/><line x1="1238" y1="887" x2="1265" y2="887"/></g>
<!-- claim mapping window -->
<rect x="746.5" y="1119" width="227" height="181.4" rx="9" fill="#f6f6f6" stroke="#1d1d1d" stroke-width="2.6"/>
<path d="M746.5,1142 L746.5,1128 Q746.5,1119 755.5,1119 L964.5,1119 Q973.5,1119 973.5,1128 L973.5,1142 Z" fill="#7a1d52" stroke="#1d1d1d" stroke-width="2.6" stroke-linejoin="round"/>
<g fill="#f4dce8"><circle cx="932.8" cy="1130.7" r="3.6"/><circle cx="945.6" cy="1130.7" r="3.6"/><circle cx="958.5" cy="1130.7" r="3.6"/></g>
<line x1="859" y1="1150" x2="859" y2="1295" stroke="#1d1d1d" stroke-width="2" stroke-dasharray="7,6"/>
<g fill="none" stroke="#4a5570" stroke-width="2.4" stroke-linejoin="round">
<path d="M783,1219 L842.6,1219"/>
<path d="M877.3,1219 L914,1219"/>
<path d="M783,1181 L783,1207"/>
<path d="M783,1231 L783,1252"/>
<path d="M850,1203 L830,1203 Q826,1203 826,1199 L826,1172 Q826,1168 822,1168 L807,1168" stroke="#aab0b8"/>
<path d="M870,1203 L880,1203 Q885,1203 885,1198 L885,1172 Q885,1168 890,1168 L904,1168"/>
<path d="M850,1236.5 L830,1236.5 Q826,1236.5 826,1241 L826,1266 Q826,1271 820,1271 L812,1271"/>
<path d="M870,1236.5 L880,1236.5 Q885,1236.5 885,1241 L885,1266 Q885,1271 890,1271 L904,1271"/>
<path d="M935.3,1207 L935.3,1192"/>
<path d="M935.3,1231 L935.3,1250"/>
</g>
<g fill="#4a5570">
<polygon points="904,1163 913,1168 904,1173"/>
<polygon points="904,1266 913,1271 904,1276"/>
<polygon points="914,1214 923,1219 914,1224"/>
<polygon points="812,1266 803,1271 812,1276"/>
<polygon points="778,1252 783,1259 788,1252"/>
<polygon points="930.3,1192 935.3,1184 940.3,1192"/>
<polygon points="930.3,1250 935.3,1258 940.3,1250"/>
</g>
<g stroke="#1d1d1d" stroke-width="2.4">
<rect x="763" y="1156" width="42.5" height="25" rx="3" fill="#9ca2b8"/>
<rect x="763" y="1259" width="42.5" height="25" rx="3" fill="#9ca2b8"/>
<rect x="913.8" y="1156" width="43" height="25" rx="3" fill="#c8a2b2"/>
<rect x="913.8" y="1259" width="43" height="25" rx="3" fill="#c8a2b2"/>
<rect x="842.6" y="1203" width="34.7" height="33.5" rx="4" fill="#4f6a96"/>
<circle cx="783" cy="1219" r="11.6" fill="#7a1d52"/>
<circle cx="935.3" cy="1219" r="11.6" fill="#5470a0"/>
</g>
<!-- gear -->
<g transform="translate(1174.5,1220)">
<path id="gearpath" d="M43.0,-13.3 L54.2,-12.1 L54.2,12.1 L43.0,13.3 L39.8,21.0 L46.9,29.7 L29.7,46.9 L21.0,39.8 L13.3,43.0 L12.1,54.2 L-12.1,54.2 L-13.3,43.0 L-21.0,39.8 L-29.7,46.9 L-46.9,29.7 L-39.8,21.0 L-43.0,13.3 L-54.2,12.1 L-54.2,-12.1 L-43.0,-13.3 L-39.8,-21.0 L-46.9,-29.7 L-29.7,-46.9 L-21.0,-39.8 L-13.3,-43.0 L-12.1,-54.2 L12.1,-54.2 L13.3,-43.0 L21.0,-39.8 L29.7,-46.9 L46.9,-29.7 L39.8,-21.0 Z" fill="#c9a3b3" stroke="#1d1d1d" stroke-width="2.6" stroke-linejoin="round"/>
<circle cx="0" cy="0" r="26.5" fill="#fbfbf9" stroke="#1d1d1d" stroke-width="2.6"/>
</g>
<!-- mauve up arrow -->
<polygon points="1238.4,1275 1238.4,1222 1231.8,1222 1250,1196 1266.5,1222 1255,1222 1255,1275" fill="#9a7088" stroke="#1d1d1d" stroke-width="2" stroke-linejoin="round"/>
<!-- blue zigzag arrow -->
<polyline points="1120,1266 1183.5,1209 1192.8,1226 1247,1170" fill="none" stroke="#1d1d1d" stroke-width="18" stroke-linejoin="miter" stroke-miterlimit="3"/>
<polyline points="1120,1266 1183.5,1209 1192.8,1226 1247,1170" fill="none" stroke="#4d6896" stroke-width="12.5" stroke-linejoin="miter" stroke-miterlimit="3"/>
<polygon points="1226.4,1149.4 1273,1136.4 1263.6,1183" fill="#4d6896" stroke="#1d1d1d" stroke-width="2.6" stroke-linejoin="round"/>
</g>

<g id="illus">
<g id="panel1">
<!-- stack shadow -->
<polygon points="30,1070 66,1069 181,1133 200,1150 150,1152 40,1090" fill="#e2e2e2"/>
<polygon points="181,1133 317,1060 330,1068 200,1146" fill="#e8e8e8"/>
<polygon points="66,888 181,952 317,886 317,1060 181,1133 66,1069" fill="#fafafa" stroke="#151515" stroke-width="2.8" stroke-linejoin="round"/>
<defs>
<g id="lay">
<polyline points="67,895.6 181,959.6 316,893.6" fill="none" stroke="#b3b3b3" stroke-width="4.6" stroke-linejoin="miter"/>
<polyline points="64,900 181,964 319,898" fill="none" stroke="#151515" stroke-width="3.2" stroke-linejoin="miter"/>
</g>
</defs>
<use href="#lay"/><use href="#lay" y="12.06"/><use href="#lay" y="24.12"/><use href="#lay" y="36.18"/><use href="#lay" y="48.24"/>
<use href="#lay" y="60.3"/><use href="#lay" y="72.36"/><use href="#lay" y="84.42"/><use href="#lay" y="96.48"/><use href="#lay" y="108.54"/>
<use href="#lay" y="120.6"/><use href="#lay" y="132.66"/><use href="#lay" y="144.72"/><use href="#lay" y="156.78"/>
<polyline points="67,1063 181,1127 316,1061" fill="none" stroke="#b3b3b3" stroke-width="5"/>
<!-- top sheet -->
<polygon points="66.6,887.6 216.7,805 296.2,852.6 296.2,878 317.2,885.6 181.8,951.8" fill="#f5f5f5" stroke="#151515" stroke-width="2.8" stroke-linejoin="round"/>
<polygon points="296.2,852.6 275.3,866.9 296.2,878.1" fill="#bdbdbd" stroke="#151515" stroke-width="2.2" stroke-linejoin="round"/>
<g stroke="#b4b4b4" stroke-width="3.2" stroke-linecap="round">
<line x1="103" y1="886.4" x2="152" y2="912"/>
<line x1="113" y1="880.4" x2="194" y2="923"/>
<line x1="123.5" y1="873.6" x2="206" y2="917"/>
<line x1="135.6" y1="866.8" x2="216.6" y2="910"/>
<line x1="176" y1="891" x2="237" y2="902"/>
</g>
<!-- PDF doc -->
<path d="M155,760.5 L214,760.5 L244,792 L244,883 Q244,888.6 238,888.6 L155,888.6 Q150,888.6 150,883 L150,766 Q150,760.5 155,760.5 Z" fill="#f4f4f4" stroke="#1d1d1d" stroke-width="2.6" stroke-linejoin="round"/>
<path d="M214,760.5 L244,792 L219,792 Q214,792 214,787 Z" fill="#7a1d55" stroke="#1d1d1d" stroke-width="2.2" stroke-linejoin="round"/>
<rect x="134" y="805" width="94" height="49.5" rx="7" fill="#7a1d55" stroke="#3a0d28" stroke-width="2.4"/>
<text id="t28" x="180.50" y="843.5" font-size="37" font-weight="bold" fill="#f8eef4" text-anchor="middle" textLength="73.13" lengthAdjust="spacingAndGlyphs">PDF</text>
<!-- maroon arrow -->
<polygon points="270.6,1010 339,1010 339,987.7 395.3,1029.5 339,1071.4 339,1049 270.6,1049" fill="#6e1a4d" stroke="#3a0d28" stroke-width="1.5" stroke-linejoin="round"/>
<!-- clipboard -->
<polygon points="405.5,909.8 416,903.8 416,1216 405.5,1206" fill="#3f5f90" stroke="#1a2740" stroke-width="2.6" stroke-linejoin="round"/>
<polygon points="416,903.8 608,806.5 616,810 616,1115 416,1216" fill="#4b6fa3" stroke="#1a2740" stroke-width="2.8" stroke-linejoin="round"/>
<polygon points="429.3,920.5 605.5,825.2 605.5,1108 429.3,1199" fill="#fcfcfc" stroke="#1a2740" stroke-width="2.4" stroke-linejoin="round"/>
<!-- clip -->
<path d="M468.6,875 L492,860 Q492,832 512,826 Q528,822 533,836 L556.7,822 L556.7,854 L480,899 L478,886 Z" fill="#a9aeb5" stroke="#1d1d1d" stroke-width="2.4" stroke-linejoin="round"/>
<circle cx="517.4" cy="849" r="4.5" fill="#444" stroke="#1d1d1d" stroke-width="1.5"/>
<!-- clipboard content -->
<g transform="matrix(1,-0.505,0,1,429.3,920.5)">
<g stroke="#b8b8b8" stroke-width="3.4" stroke-linecap="round">
<line x1="95" y1="40" x2="160" y2="40"/><line x1="95" y1="52" x2="160" y2="52"/>
<line x1="13" y1="50" x2="160" y2="50"/><line x1="13" y1="63" x2="160" y2="63"/><line x1="13" y1="76" x2="100" y2="76"/>
<line x1="13" y1="120" x2="160" y2="120"/><line x1="13" y1="133" x2="160" y2="133"/><line x1="13" y1="146" x2="160" y2="146"/><line x1="13" y1="159" x2="115" y2="159"/>
<line x1="13" y1="205" x2="160" y2="205"/><line x1="13" y1="218" x2="160" y2="218"/><line x1="13" y1="231" x2="100" y2="231"/>
</g>
<g font-size="23" font-weight="bold" font-style="italic" fill="#1a1a1a">
<text id="t29" x="13" y="33" textLength="80" lengthAdjust="spacingAndGlyphs">Summary</text>
<text id="t30" x="13" y="112" textLength="150" lengthAdjust="spacingAndGlyphs">Detailed Analysis</text>
<text id="t31" x="13" y="197" textLength="96" lengthAdjust="spacingAndGlyphs">Conclusion</text>
</g>
</g>
<!-- check -->
<circle cx="619.8" cy="1094.3" r="39" fill="#4e8a6f" stroke="#1c2a26" stroke-width="3.2"/>
<path d="M601,1097 L614,1109 L638,1083" fill="none" stroke="#ffffff" stroke-width="9" stroke-linecap="square" stroke-linejoin="miter"/>
</g>

</g>
</svg>
</body></html>
